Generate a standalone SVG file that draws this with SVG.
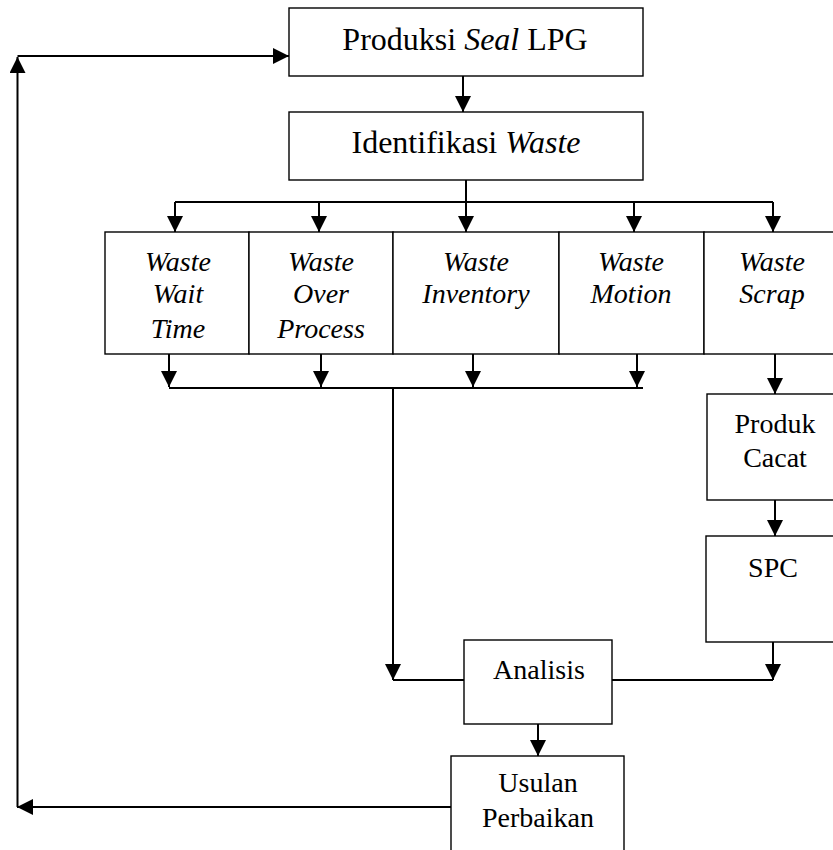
<svg xmlns="http://www.w3.org/2000/svg" width="833" height="850" viewBox="0 0 833 850">
  <style>
    .box { fill: #ffffff; stroke: #000000; stroke-width: 1.4; }
    .ln { fill: none; stroke: #000000; stroke-width: 2; }
    .t32 { font-family: "Liberation Serif", "Times New Roman", serif; font-size: 32px; fill: #000; text-anchor: middle; }
    .t28 { font-family: "Liberation Serif", "Times New Roman", serif; font-size: 28px; fill: #000; text-anchor: middle; }
    .it { font-style: italic; }
  </style>
  <defs>
    <marker id="ah" markerUnits="userSpaceOnUse" markerWidth="16" markerHeight="16" viewBox="0 0 15 15" refX="15" refY="7.5" orient="auto">
      <path d="M0,0 L15,7.5 L0,15 z" fill="#000"/>
    </marker>
  </defs>
  <rect width="833" height="850" fill="#ffffff"/>

  <g id="connectors">
    <path class="ln" d="M451,807 H17" marker-end="url(#ah)"/>
    <path class="ln" d="M17.5,807 V57" marker-end="url(#ah)"/>
    <path class="ln" d="M17.5,56 H289" marker-end="url(#ah)"/>
    <path class="ln" d="M463,76 V112" marker-end="url(#ah)"/>
    <path class="ln" d="M466,180 V202"/>
    <path class="ln" d="M175,202 H773"/>
    <path class="ln" d="M175,202 V232" marker-end="url(#ah)"/>
    <path class="ln" d="M319,202 V232" marker-end="url(#ah)"/>
    <path class="ln" d="M466,202 V232" marker-end="url(#ah)"/>
    <path class="ln" d="M634,202 V232" marker-end="url(#ah)"/>
    <path class="ln" d="M773,202 V232" marker-end="url(#ah)"/>
    <path class="ln" d="M169,354 V387" marker-end="url(#ah)"/>
    <path class="ln" d="M321,354 V387" marker-end="url(#ah)"/>
    <path class="ln" d="M473,354 V387" marker-end="url(#ah)"/>
    <path class="ln" d="M637,354 V387" marker-end="url(#ah)"/>
    <path class="ln" d="M169,388 H643"/>
    <path class="ln" d="M393,388 V680" marker-end="url(#ah)"/>
    <path class="ln" d="M393,680 H464"/>
    <path class="ln" d="M612,680 H773"/>
    <path class="ln" d="M773,642 V680" marker-end="url(#ah)"/>
    <path class="ln" d="M775,354 V394" marker-end="url(#ah)"/>
    <path class="ln" d="M775,500 V536" marker-end="url(#ah)"/>
    <path class="ln" d="M538,724 V756" marker-end="url(#ah)"/>
  </g>

  <g id="produksi">
    <rect class="box" x="289" y="8" width="354" height="68"/>
    <text class="t32" x="465" y="50">Produksi <tspan class="it">Seal</tspan> LPG</text>
  </g>
  <g id="identifikasi">
    <rect class="box" x="289" y="112" width="354" height="68"/>
    <text class="t32" x="466" y="153">Identifikasi <tspan class="it">Waste</tspan></text>
  </g>
  <g id="waste-wait-time">
    <rect class="box" x="105" y="232" width="144" height="122"/>
    <text class="t28 it" x="178" y="271">Waste</text>
    <text class="t28 it" x="178" y="303">Wait</text>
    <text class="t28 it" x="178" y="338">Time</text>
  </g>
  <g id="waste-over-process">
    <rect class="box" x="249" y="232" width="144" height="122"/>
    <text class="t28 it" x="321" y="271">Waste</text>
    <text class="t28 it" x="321" y="303">Over</text>
    <text class="t28 it" x="321" y="338">Process</text>
  </g>
  <g id="waste-inventory">
    <rect class="box" x="393" y="232" width="166" height="122"/>
    <text class="t28 it" x="476" y="271">Waste</text>
    <text class="t28 it" x="476" y="303">Inventory</text>
  </g>
  <g id="waste-motion">
    <rect class="box" x="559" y="232" width="145" height="122"/>
    <text class="t28 it" x="631" y="271">Waste</text>
    <text class="t28 it" x="631" y="303">Motion</text>
  </g>
  <g id="waste-scrap">
    <rect class="box" x="704" y="232" width="140" height="122"/>
    <text class="t28 it" x="772" y="271">Waste</text>
    <text class="t28 it" x="772" y="303">Scrap</text>
  </g>
  <g id="produk-cacat">
    <rect class="box" x="707" y="394" width="140" height="106"/>
    <text class="t28" x="775" y="433">Produk</text>
    <text class="t28" x="775" y="467">Cacat</text>
  </g>
  <g id="spc">
    <rect class="box" x="706" y="536" width="140" height="106"/>
    <text class="t28" x="773" y="577">SPC</text>
  </g>
  <g id="analisis">
    <rect class="box" x="464" y="640" width="148" height="84"/>
    <text class="t28" x="539" y="679">Analisis</text>
  </g>
  <g id="usulan-perbaikan">
    <rect class="box" x="451" y="756" width="173" height="110"/>
    <text class="t28" x="538" y="792">Usulan</text>
    <text class="t28" x="538" y="827">Perbaikan</text>
  </g>
</svg>
